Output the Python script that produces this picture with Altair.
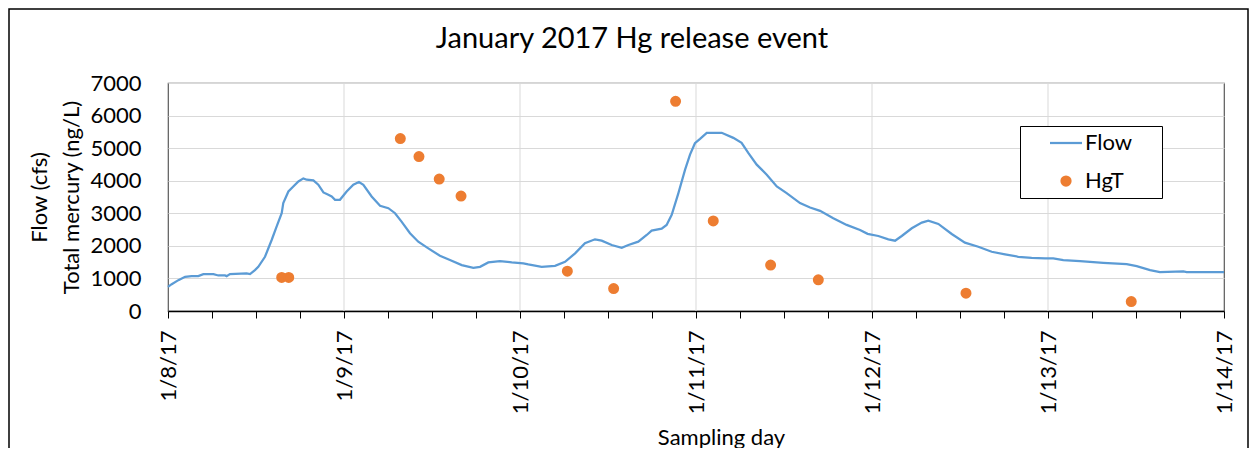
import altair as alt
import pandas as pd

# ---- data ----
flow_days = [0.000, 0.021, 0.059, 0.097, 0.134, 0.172, 0.201, 0.258, 0.286, 0.324,
             0.333, 0.352, 0.447, 0.466, 0.494, 0.513, 0.551, 0.589, 0.617, 0.646,
             0.655, 0.684, 0.712, 0.741, 0.769, 0.788, 0.826, 0.854, 0.883, 0.911,
             0.930, 0.949, 0.977, 1.015, 1.053, 1.085, 1.110, 1.157, 1.205, 1.252,
             1.290, 1.327, 1.375, 1.422, 1.479, 1.545, 1.602, 1.669, 1.735, 1.773,
             1.820, 1.886, 1.953, 2.019, 2.047, 2.123, 2.199, 2.256, 2.313, 2.369,
             2.426, 2.464, 2.521, 2.578, 2.616, 2.672, 2.720, 2.748, 2.805, 2.833,
             2.862, 2.900, 2.938, 2.966, 2.994, 3.023, 3.061, 3.146, 3.212, 3.259,
             3.297, 3.345, 3.402, 3.459, 3.515, 3.591, 3.648, 3.705, 3.780, 3.856,
             3.932, 3.975, 4.036, 4.093, 4.131, 4.169, 4.226, 4.283, 4.320, 4.377,
             4.453, 4.528, 4.604, 4.680, 4.756, 4.831, 4.907, 4.983, 5.030, 5.087,
             5.182, 5.314, 5.447, 5.504, 5.580, 5.636, 5.769, 5.788, 6.000]
flow_cfs = [740, 823, 947, 1048, 1070, 1070, 1132, 1132, 1091, 1091,
            1070, 1132, 1153, 1132, 1255, 1357, 1665, 2180, 2590, 3003,
            3312, 3670, 3824, 3978, 4071, 4030, 4009, 3876, 3639, 3568,
            3515, 3414, 3414, 3670, 3876, 3959, 3876, 3515, 3229, 3157,
            3003, 2744, 2387, 2128, 1924, 1696, 1563, 1409, 1326, 1357,
            1492, 1533, 1492, 1461, 1430, 1357, 1388, 1511, 1770, 2078,
            2201, 2159, 2026, 1943, 2026, 2128, 2334, 2467, 2529, 2643,
            2951, 3620, 4339, 4800, 5150, 5285, 5470, 5470, 5316, 5162,
            4854, 4493, 4184, 3824, 3620, 3312, 3176, 3074, 2849, 2643,
            2488, 2370, 2303, 2201, 2159, 2303, 2541, 2714, 2775, 2673,
            2365, 2097, 1973, 1819, 1739, 1665, 1634, 1616, 1616, 1563,
            1533, 1481, 1440, 1378, 1255, 1193, 1215, 1193, 1193]

hgt_days = [0.646, 0.686, 1.320, 1.426, 1.541, 1.665, 2.269, 2.532, 2.884,
            3.098, 3.424, 3.695, 4.534, 5.473]
hgt_ngl = [1030, 1030, 5295, 4740, 4051, 3527, 1224, 690, 6436,
           2766, 1409, 956, 546, 290]

series_names = ["Flow", "HgT"]
series_colors = ["#5B9BD5", "#ED7D31"]
series_shapes = ["stroke", "circle"]
y_ticks = [0, 1000, 2000, 3000, 4000, 5000, 6000, 7000]
day_gridlines = [1, 2, 3, 4, 5]          # days after 1/8/17 with vertical gridlines
tick_hours = list(range(0, 6 * 24 + 1, 6))  # x ticks every 6 hours

base = pd.Timestamp("2017-01-08")
flow_df = pd.DataFrame({"time": base + pd.to_timedelta(flow_days, unit="D"),
                        "value": flow_cfs})
hgt_df = pd.DataFrame({"time": base + pd.to_timedelta(hgt_days, unit="D"),
                       "value": hgt_ngl, "series": "HgT"})
grid_df = pd.DataFrame({"time": base + pd.to_timedelta(day_gridlines, unit="D")})

FONT = "Lato"

x_scale = alt.Scale(domain=[alt.DateTime(year=2017, month=1, date=8),
                            alt.DateTime(year=2017, month=1, date=14)], nice=False)
x_tick_values = [alt.DateTime(year=2017, month=1, date=8 + h // 24, hours=h % 24)
                 for h in tick_hours]
x_axis = alt.Axis(
    title="Sampling day",
    values=x_tick_values,
    labelExpr="hours(datum.value) == 0 ? timeFormat(datum.value, '%-m/%-d/%y') : ''",
    labelAngle=270, labelOverlap=False, labelFlush=False, labelBound=False,
    labelPadding=12, tickSize=7, tickColor="#000", tickWidth=1,
    domainColor="#000", domainWidth=1.5, grid=False,
    titleX=553, titleY=126, titleAlign="center", titleBaseline="middle",
)
y_scale = alt.Scale(domain=[0, 7000], nice=False)
y_axis = alt.Axis(
    title=["Flow (cfs)", "Total mercury (ng/L)"],
    values=y_ticks, format="d", ticks=False, domain=False,
    labelPadding=27, titlePadding=6, titleLineHeight=32, grid=True,
)

X = alt.X("time:T", scale=x_scale, axis=x_axis)
Y = alt.Y("value:Q", scale=y_scale, axis=y_axis)

frame = alt.Chart(pd.DataFrame({"k": [0]})).mark_rect(
    fill="white", fillOpacity=0, stroke="#000", strokeWidth=1.5, clip=False
).encode(x=alt.value(-159), x2=alt.value(1080), y=alt.value(-74), y2=alt.value(500))

vgrid = alt.Chart(grid_df).mark_rule(color="#D9D9D9", strokeWidth=1).encode(
    x=alt.X("time:T", scale=x_scale, axis=x_axis))

flow = alt.Chart(flow_df).mark_line(color=series_colors[0], strokeWidth=2.25).encode(x=X, y=Y)

sc = alt.Scale(domain=series_names, range=series_colors)
# invisible legend title on the right gives the legend box its right-hand margin
lg = alt.Legend(title="xx", titleOrient="right", titleOpacity=0, titlePadding=0,
                titleFontSize=21)
points = alt.Chart(hgt_df).mark_point(filled=True, opacity=1, strokeWidth=2, size=81).encode(
    x=X, y=Y,
    color=alt.Color("series:N", scale=sc, legend=lg),
    stroke=alt.Stroke("series:N", scale=sc, legend=lg),
    shape=alt.Shape("series:N", scale=alt.Scale(domain=series_names, range=series_shapes),
                    legend=lg),
)

chart = alt.layer(frame, vgrid, flow, points).properties(
    width=1056, height=228,
    autosize=alt.AutoSizeParams(type="none"),
    padding={"left": 160, "top": 75, "right": 25, "bottom": 137},
    title=alt.TitleParams("January 2017 Hg release event", font=FONT, fontSize=29,
                          fontWeight="normal", color="#000", anchor="middle",
                          dx=-64, dy=76, offset=30),
).configure_view(stroke="#595959", strokeWidth=1.2).configure_axis(
    labelFont=FONT, titleFont=FONT, labelFontSize=22, titleFontSize=22,
    labelColor="#000", titleColor="#000", titleFontWeight="normal",
    gridColor="#D9D9D9", gridWidth=1,
).configure_legend(
    orient="none", legendX=852, legendY=43, strokeColor="#000", fillColor="white",
    padding=6, labelFont=FONT, labelFontSize=22, labelColor="#000",
    symbolOffset=29, rowPadding=16, labelOffset=8, symbolStrokeWidth=2.25,
    symbolSize={"expr": "datum.value == 'Flow' ? 1024 : 81"},
)

chart.save("out.html", embed_options={"renderer": "svg", "actions": False})
